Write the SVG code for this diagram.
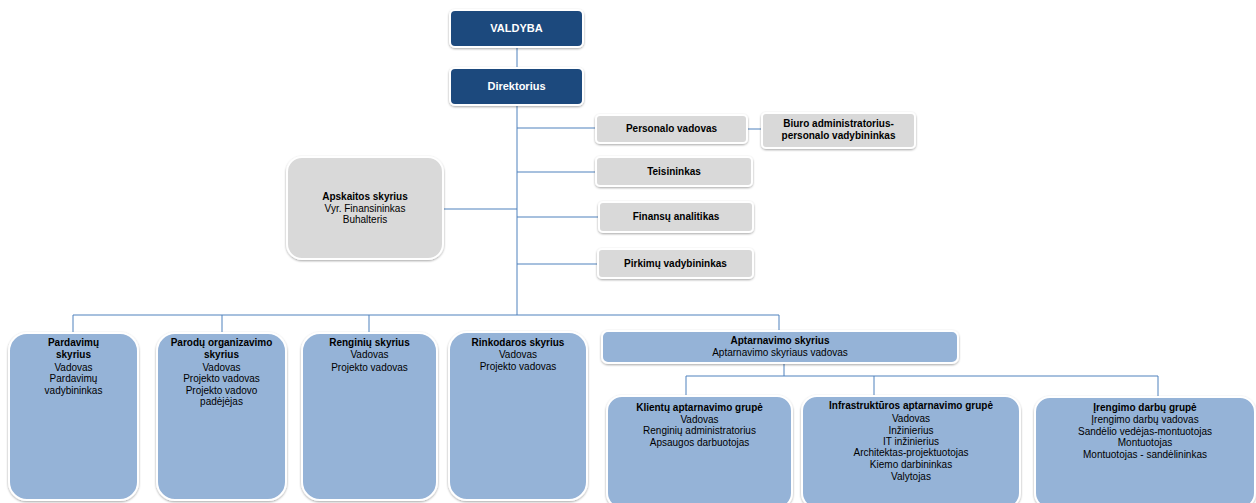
<svg xmlns="http://www.w3.org/2000/svg" width="1256" height="503" viewBox="0 0 1256 503">
<style>
text{font-family:"Liberation Sans",Arial,sans-serif;font-size:10px;fill:#000;text-anchor:middle}
.b{font-weight:bold}
.w{fill:#fff;font-weight:bold;font-size:11px}
.dk{fill:#1f497d;stroke:#fff;stroke-width:2;filter:url(#sh)}
.gr{fill:#d9d9d9;stroke:#fff;stroke-width:2;filter:url(#sh)}
.bl{fill:#95b3d7;stroke:#fff;stroke-width:2;filter:url(#sh)}
.c{fill:none;stroke:#4f81bd;stroke-width:1}
</style>
<defs>
<filter id="sh" x="-10%" y="-10%" width="120%" height="130%">
<feDropShadow dx="0" dy="1" stdDeviation="1" flood-color="#000" flood-opacity="0.35"/>
</filter>
</defs>
<rect width="1256" height="503" fill="#fff"/>
<g id="connectors">
<path class="c" d="M517 47V68M517 105V315"/>
<path class="c" d="M517 128H596M747 129H762"/>
<path class="c" d="M517 172H596M517 217H599M517 264H598M443 209H517"/>
<path class="c" d="M73 333V315H779V333M222 315V333M369 315V333"/>
<path class="c" d="M784 363V376M686 396V376H1158V397M874 376V396"/>
</g>
<g id="valdyba"><rect class="dk" x="450" y="10" width="133" height="37" rx="5"/><text class="w" x="516.5" y="32">VALDYBA</text></g>
<g id="direktorius"><rect class="dk" x="450" y="68" width="133" height="37" rx="5"/><text class="w" x="516.5" y="90">Direktorius</text></g>
<g id="personalo"><rect class="gr" x="596" y="115" width="151" height="28" rx="4"/><text class="b" x="671.5" y="132">Personalo vadovas</text></g>
<g id="biuro"><rect class="gr" x="762" y="113" width="153" height="35" rx="4"/><text class="b" x="838.5" y="127">Biuro administratorius-</text><text class="b" x="838.5" y="139">personalo vadybininkas</text></g>
<g id="teisininkas"><rect class="gr" x="596" y="157" width="156" height="29" rx="4"/><text class="b" x="674" y="175">Teisininkas</text></g>
<g id="finansu"><rect class="gr" x="599" y="202" width="154" height="30" rx="4"/><text class="b" x="676" y="220">Finansų analitikas</text></g>
<g id="pirkimu"><rect class="gr" x="598" y="249" width="155" height="29" rx="4"/><text class="b" x="675.5" y="267">Pirkimų vadybininkas</text></g>
<g id="apskaitos"><rect class="gr" x="287" y="157" width="156" height="102" rx="15"/><text class="b" x="365" y="200">Apskaitos skyrius</text><text x="365" y="212">Vyr. Finansininkas</text><text x="365" y="223">Buhalteris</text></g>
<g id="pardavimu"><rect class="bl" x="9" y="333" width="129" height="167" rx="18"/><text class="b" x="73.5" y="346">Pardavimų</text><text class="b" x="73.5" y="358">skyrius</text><text x="73.5" y="371">Vadovas</text><text x="73.5" y="382">Pardavimų</text><text x="73.5" y="394">vadybininkas</text></g>
<g id="parodu"><rect class="bl" x="157" y="333" width="129" height="167" rx="18"/><text class="b" x="221.5" y="346">Parodų organizavimo</text><text class="b" x="221.5" y="358">skyrius</text><text x="221.5" y="371">Vadovas</text><text x="221.5" y="382">Projekto vadovas</text><text x="221.5" y="394">Projekto vadovo</text><text x="221.5" y="405">padėjėjas</text></g>
<g id="renginiu"><rect class="bl" x="302" y="333" width="135" height="167" rx="18"/><text class="b" x="369.5" y="346">Renginių skyrius</text><text x="369.5" y="358">Vadovas</text><text x="369.5" y="371">Projekto vadovas</text></g>
<g id="rinkodaros"><rect class="bl" x="449" y="332" width="138" height="168" rx="18"/><text class="b" x="518" y="346">Rinkodaros skyrius</text><text x="518" y="358">Vadovas</text><text x="518" y="370">Projekto vadovas</text></g>
<g id="aptarnavimo"><rect class="bl" x="602" y="331" width="356" height="32" rx="6"/><text class="b" x="780" y="344">Aptarnavimo skyrius</text><text x="780" y="356">Aptarnavimo skyriaus vadovas</text></g>
<g id="klientu"><rect class="bl" x="607" y="396" width="185" height="112" rx="15"/><text class="b" x="699.5" y="411">Klientų aptarnavimo grupė</text><text x="699.5" y="423">Vadovas</text><text x="699.5" y="434">Renginių administratorius</text><text x="699.5" y="446">Apsaugos darbuotojas</text></g>
<g id="infrastrukturos"><rect class="bl" x="802" y="396" width="218" height="112" rx="15"/><text class="b" x="911" y="409">Infrastruktūros aptarnavimo grupė</text><text x="911" y="422">Vadovas</text><text x="911" y="434">Inžinierius</text><text x="911" y="445">IT inžinierius</text><text x="911" y="456">Architektas-projektuotojas</text><text x="911" y="468">Kiemo darbininkas</text><text x="911" y="480">Valytojas</text></g>
<g id="irengimo"><rect class="bl" x="1035" y="397" width="220" height="111" rx="15"/><text class="b" x="1145" y="411">Įrengimo darbų grupė</text><text x="1145" y="423">Įrengimo darbų vadovas</text><text x="1145" y="435">Sandėlio vedėjas-montuotojas</text><text x="1145" y="446">Montuotojas</text><text x="1145" y="458">Montuotojas - sandėlininkas</text></g>
</svg>
